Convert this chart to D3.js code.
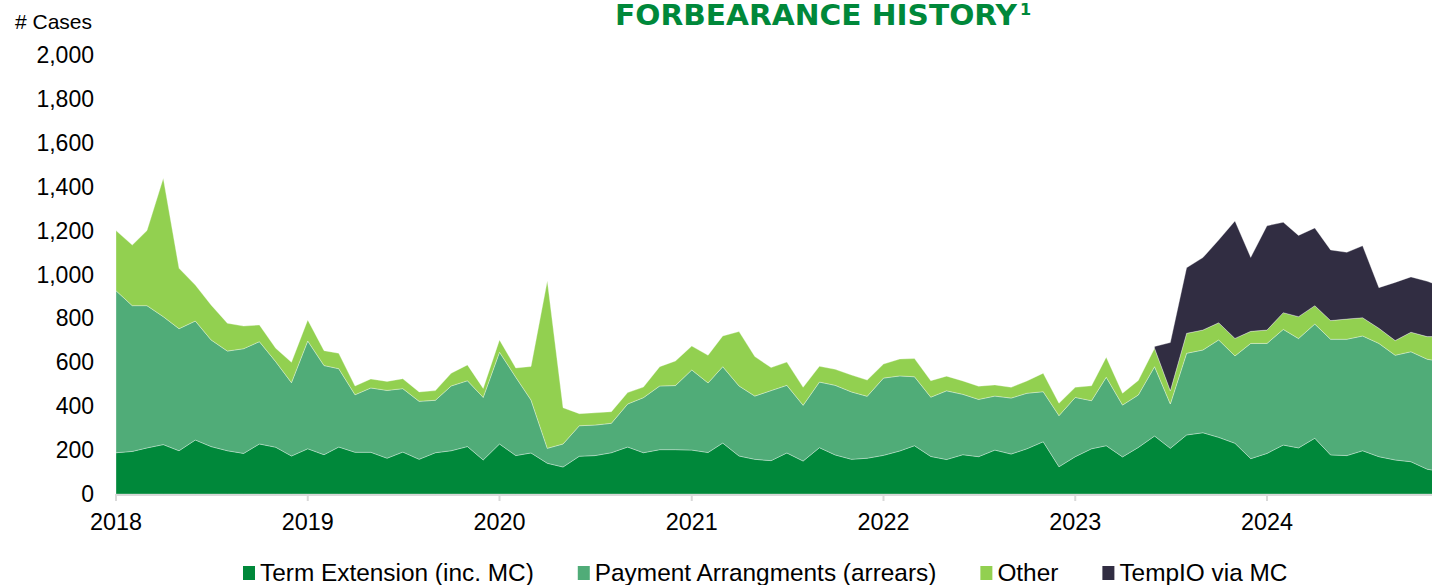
<!DOCTYPE html>
<html>
<head>
<meta charset="utf-8">
<script src="https://cdn.jsdelivr.net/npm/d3@7"></script>
<style>
    body { margin: 0; background: #fff; }
    svg { display: block; font-family: "Liberation Sans", Arial, sans-serif; }
</style>
</head>
<body>
<div id="chart"></div>
<script>
'use strict';

/* global d3 */

// monthly counts, Jan 2018 .. Dec 2024 (one row per year)
var firstMonth = new Date(2018, 0, 1);

var termExtension = [
    188, 194, 210, 225, 197, 246, 216, 197, 185, 228, 213, 173,
    206, 179, 214, 190, 190, 163, 191, 158, 188, 197, 216, 155,
    228, 175, 187, 140, 123, 172, 175, 188, 214, 188, 202, 202,
    200, 189, 232, 173, 158, 152, 187, 150, 211, 178, 158, 163,
    176, 196, 220, 171, 157, 179, 170, 200, 182, 206, 238, 124,
    170, 206, 220, 169, 212, 264, 208, 269, 279, 258, 231, 161,
    185, 223, 210, 254, 178, 175, 197, 170, 155, 147, 113, 101
];

var paymentArrangements = [
    738, 664, 648, 583, 556, 542, 486, 454, 477, 466, 390, 334,
    491, 406, 357, 262, 293, 309, 289, 264, 239, 295, 300, 285,
    418, 357, 241, 68, 105, 139, 139, 134, 196, 251, 290, 292,
    365, 317, 348, 319, 288, 319, 308, 254, 299, 317, 307, 282,
    352, 342, 314, 270, 313, 275, 261, 246, 255, 253, 228, 233,
    270, 219, 312, 236, 239, 316, 202, 372, 377, 444, 398, 525,
    501, 527, 498, 520, 527, 530, 523, 516, 477, 501, 501, 501
];

var other = [
    274, 276, 342, 630, 275, 164, 159, 127, 103, 76, 61, 93,
    96, 68, 70, 40, 41, 41, 45, 43, 44, 58, 72, 41,
    56, 42, 153, 763, 165, 55, 56, 53, 52, 48, 88, 112,
    109, 126, 140, 248, 180, 105, 106, 82, 72, 73, 77, 74,
    64, 77, 83, 75, 67, 61, 60, 51, 49, 56, 84, 56,
    46, 68, 91, 54, 66, 84, 60, 91, 91, 78, 80, 55,
    61, 76, 100, 84, 85, 92, 83, 69, 67, 89, 103, 115
];

var tempIO = [
    null, null, null, null, null, null, null, null, null, null, null, null,
    null, null, null, null, null, null, null, null, null, null, null, null,
    null, null, null, null, null, null, null, null, null, null, null, null,
    null, null, null, null, null, null, null, null, null, null, null, null,
    null, null, null, null, null, null, null, null, null, null, null, null,
    null, null, null, null, null, 8, 220, 299, 330, 377, 535, 337,
    475, 412, 370, 354, 322, 304, 328, 185, 265, 252, 252, 226
];

var seriesKeys = ["te", "pa", "other", "tempio"];
var seriesNames = ["Term Extension (inc. MC)", "Payment Arrangments (arrears)", "Other", "TempIO via MC"];
var seriesColors = ["#00883a", "#50ac78", "#92d050", "#312d42"];

var yTicks = [0, 200, 400, 600, 800, 1000, 1200, 1400, 1600, 1800, 2000];
var xTickYears = [2018, 2019, 2020, 2021, 2022, 2023, 2024];

var WIDTH = 1432;
var HEIGHT = 585;

function buildRows() {
    return termExtension.map(function (v, i) {
        return {
            date: d3.timeMonth.offset(firstMonth, i),
            te: v,
            pa: paymentArrangements[i],
            other: other[i],
            tempio: tempIO[i]
        };
    });
}

function drawChart() {
    var rows = buildRows();

    var svg = d3.select("#chart").append("svg")
        .attr("width", WIDTH)
        .attr("height", HEIGHT);

    var x = d3.scaleTime()
        .domain([firstMonth, new Date(2024, 0, 1)])
        .range([116, 1267]);

    var y = d3.scaleLinear()
        .domain([0, 2000])
        .range([494, 55]);

    svg.append("clipPath").attr("id", "plotclip")
        .append("rect")
        .attr("x", 116).attr("y", 0)
        .attr("width", WIDTH - 116).attr("height", 495);

    var stack = d3.stack()
        .keys(seriesKeys)
        .value(function (d, key) { return d[key] || 0; });
    var layers = stack(rows);

    var area = d3.area()
        .x(function (d) { return x(d.data.date); })
        .y0(function (d) { return y(d[0]); })
        .y1(function (d) { return y(d[1]); });

    var tempArea = d3.area()
        .defined(function (d) { return d.data.tempio != null; })
        .x(function (d) { return x(d.data.date); })
        .y0(function (d) { return y(d[0]); })
        .y1(function (d) { return y(d[1]); });

    svg.append("g")
        .attr("clip-path", "url(#plotclip)")
        .selectAll("path")
        .data(layers)
        .enter()
        .append("path")
        .attr("d", function (d) { return d.key === "tempio" ? tempArea(d) : area(d); })
        .attr("fill", function (d, i) { return seriesColors[i]; })
        .attr("stroke", "#ffffff")
        .attr("stroke-opacity", 0.45)
        .attr("stroke-width", 0.7)
        .attr("stroke-linejoin", "round");

    // x axis
    var xAxis = svg.append("g").attr("class", "xaxis");
    xAxis.append("line")
        .attr("x1", 116).attr("x2", WIDTH)
        .attr("y1", 495).attr("y2", 495)
        .attr("stroke", "#d9d9d9")
        .attr("stroke-width", 2);

    xAxis.selectAll("line.tick")
        .data(xTickYears)
        .enter()
        .append("line")
        .attr("class", "tick")
        .attr("x1", function (d) { return x(new Date(d, 0, 1)); })
        .attr("x2", function (d) { return x(new Date(d, 0, 1)); })
        .attr("y1", 494)
        .attr("y2", 501)
        .attr("stroke", "#d9d9d9")
        .attr("stroke-width", 2);

    xAxis.selectAll("text")
        .data(xTickYears)
        .enter()
        .append("text")
        .attr("x", function (d) { return x(new Date(d, 0, 1)); })
        .attr("y", 530)
        .attr("text-anchor", "middle")
        .attr("font-size", 23)
        .attr("textLength", 52)
        .attr("lengthAdjust", "spacingAndGlyphs")
        .attr("fill", "#000")
        .text(function (d) { return d; });

    // y axis labels
    svg.append("g").selectAll("text")
        .data(yTicks)
        .enter()
        .append("text")
        .attr("x", 94)
        .attr("y", function (d) { return y(d) + 8; })
        .attr("text-anchor", "end")
        .attr("font-size", 23)
        .attr("fill", "#000")
        .text(function (d) { return d3.format(",")(d); });

    svg.append("text")
        .attr("x", 15)
        .attr("y", 29)
        .attr("font-size", 21)
        .attr("fill", "#000")
        .text("# Cases");

    // title
    svg.append("text")
        .attr("x", 615)
        .attr("y", 25)
        .attr("font-family", "'DejaVu Sans', sans-serif")
        .attr("font-weight", "bold")
        .attr("font-size", 29)
        .attr("textLength", 402)
        .attr("lengthAdjust", "spacingAndGlyphs")
        .attr("fill", "#00883a")
        .text("FORBEARANCE HISTORY");

    svg.append("text")
        .attr("x", 1020)
        .attr("y", 15)
        .attr("font-family", "'DejaVu Sans', sans-serif")
        .attr("font-weight", "bold")
        .attr("font-size", 16)
        .attr("fill", "#00883a")
        .text("1");

    // legend
    var legend = svg.append("g").attr("class", "legend");
    var lx = 243;
    seriesNames.forEach(function (name, i) {
        legend.append("rect")
            .attr("x", lx)
            .attr("y", 566)
            .attr("width", 12)
            .attr("height", 14)
            .attr("fill", seriesColors[i]);
        var t = legend.append("text")
            .attr("x", lx + 17)
            .attr("y", 581)
            .attr("font-size", 24.4)
            .attr("fill", "#000")
            .text(name);
        lx += 17 + t.node().getComputedTextLength() + 44;
    });
}

drawChart();
</script>
</body>
</html>
